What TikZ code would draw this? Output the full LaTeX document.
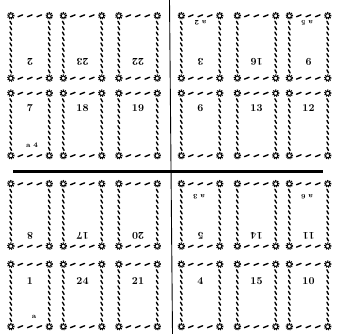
\documentclass[tikz,border=0pt]{standalone}
\usetikzlibrary{decorations.markings}
\begin{document}
\begin{tikzpicture}[x=1pt,y=-1pt,
  page/.style={minimum width=38pt,minimum height=62pt,inner sep=0pt},
  num/.style={font=\fontsize{10.5}{12}\selectfont\bfseries,inner sep=0pt},
  sig/.style={font=\fontsize{7}{8}\selectfont\bfseries,inner sep=0pt},
  hrope/.style={decorate,decoration={markings,
    mark=between positions 9.5pt and 29pt step 9.5pt with
    {\draw[line width=1.4pt,line cap=round] (-2.3pt,-0.9pt) -- (2.3pt,0.9pt);}}},
  vrope/.style={decorate,decoration={markings,
    mark=between positions 7pt and 56pt step 5.4pt with
    {\draw[line width=1.4pt,line cap=round] (-1.5pt,-0.8pt) -- (1.5pt,0.8pt);}}},
  cog/.pic={
    \draw[line width=1.6pt,dash pattern=on 1pt off 1pt] (0,0) circle (3pt);
    \draw[line width=0.9pt,fill=white] (0,0) circle (2.1pt);},
  fold/.style={line width=0.9pt},
  cut/.style={line width=3.2pt}
]
\useasboundingbox (0,0) rectangle (337,334);

\foreach \n/\x in {2/30,23/82.5,22/138,3/200.5,16/256.5,9/308.5}{
  \node[page] (p\n) at (\x,47) {};
  \node[num,rotate=180] (n\n) at (\x,62) {\n};
}
\foreach \n/\x in {7/30,18/82.5,19/138,6/200.5,13/256.5,12/308.5}{
  \node[page] (p\n) at (\x,124.5) {};
  \node[num] (n\n) at (\x,108) {\n};
}
\foreach \n/\x in {8/30,17/82.5,20/138,5/200.5,14/256.5,11/308.5}{
  \node[page] (p\n) at (\x,215) {};
  \node[num,rotate=180] (n\n) at (\x,236) {\n};
}
\foreach \n/\x in {1/30,24/82.5,21/138,4/200.5,15/256.5,10/308.5}{
  \node[page] (p\n) at (\x,295.5) {};
  \node[num] (n\n) at (\x,281) {\n};
}

\node[sig,rotate=180] (s3) at (200.5,23) {a 2};
\node[sig,rotate=180] (s9) at (307,23) {a 5};
\node[sig] (s7) at (32,145) {a 4};
\node[sig,rotate=180] (s5) at (199,197) {a 3};
\node[sig,rotate=180] (s11) at (307,197) {a 6};
\node[sig] (s1) at (34,317) {a};

\foreach \n in {1,...,24}{
  \path[hrope] (p\n.north west) -- (p\n.north east);
  \path[hrope] (p\n.south west) -- (p\n.south east);
  \path[vrope] (p\n.north west) -- (p\n.south west);
  \path[vrope] (p\n.north east) -- (p\n.south east);
  \foreach \c in {north west,north east,south west,south east}
    \pic at (p\n.\c) {cog};
}

\coordinate (foldtop) at (169.5,0);
\coordinate (foldbot) at (172.5,334);
\coordinate (cutwest) at (13,171.5);
\coordinate (cuteast) at (323,171.5);
\draw[fold] (foldtop) -- (foldbot);
\draw[cut] (cutwest) -- (cuteast);
\end{tikzpicture}
\end{document}
